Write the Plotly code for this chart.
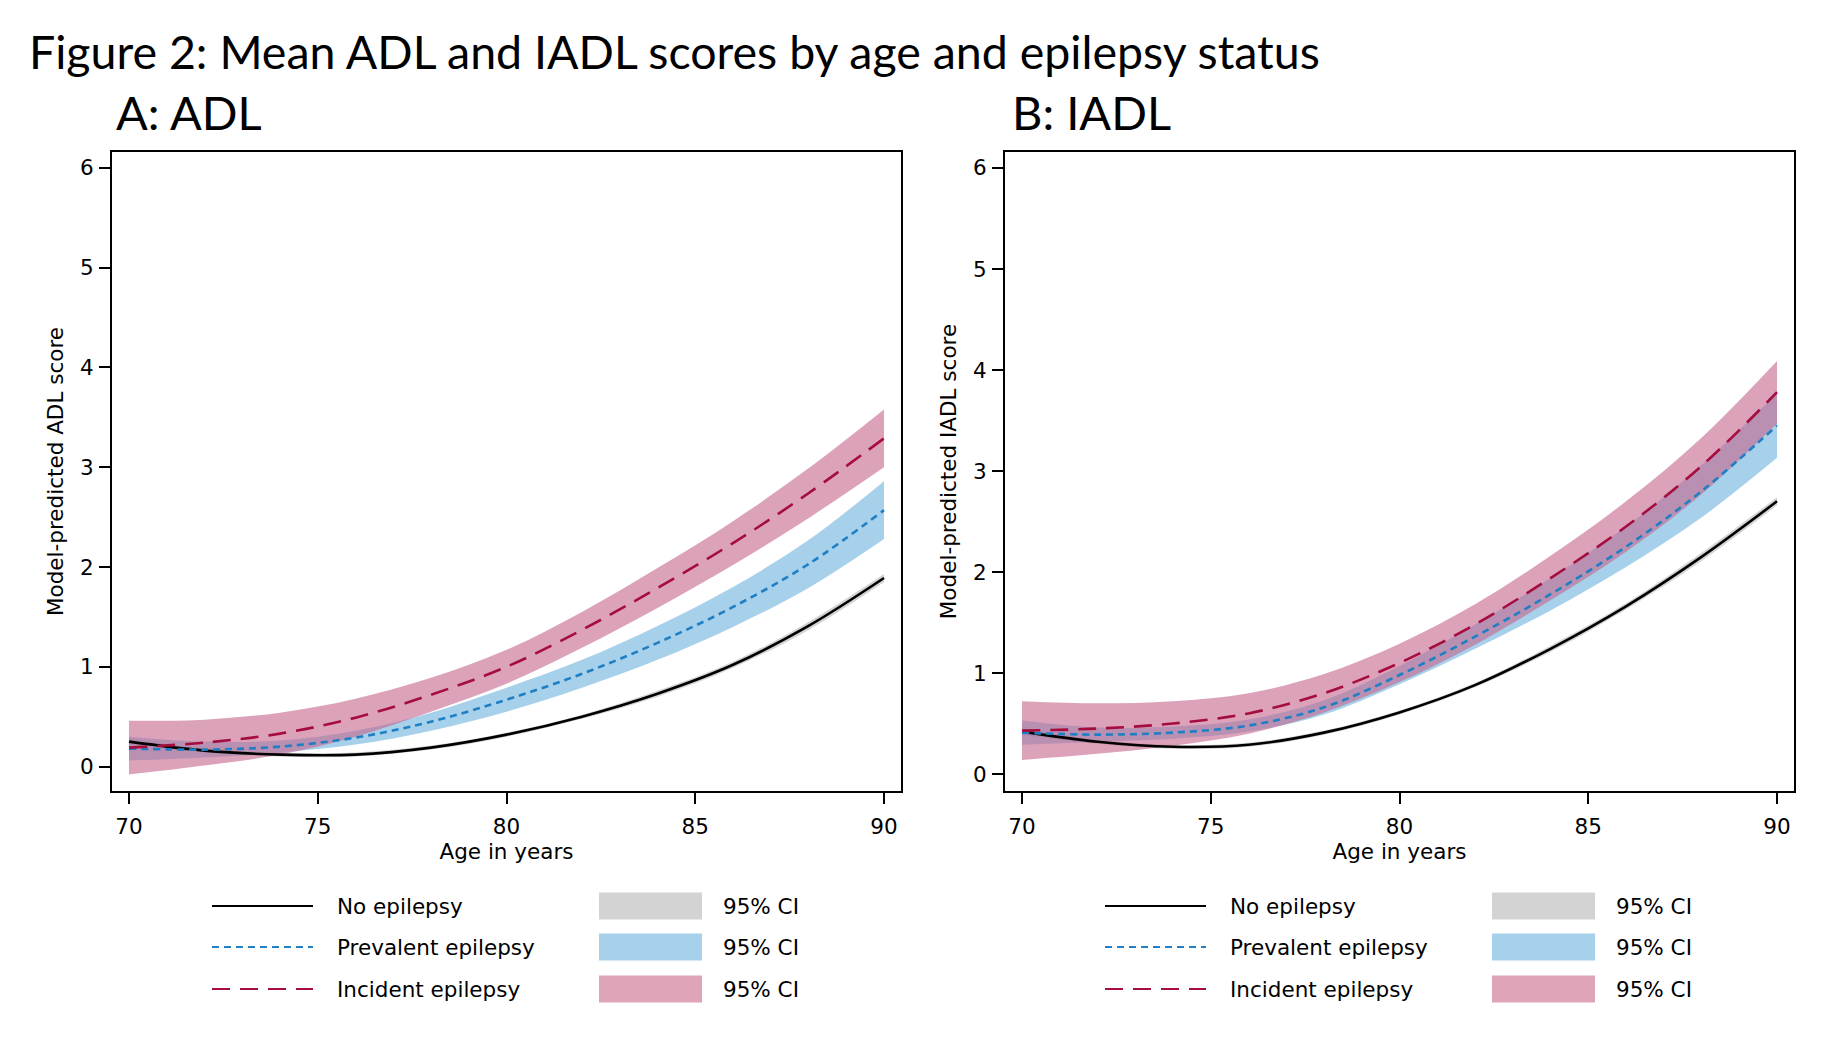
import plotly.graph_objects as go

# the page has an 8px body margin, so the figure is sized to fit the window
PAGE_OFF = 8
W, H = 1834 - PAGE_OFF, 1048 - PAGE_OFF

# ---------------- data ----------------
age = [70, 72, 74, 76, 78, 80, 82, 84, 86, 88, 90]

# Panel A: ADL
adl_no_mean = [0.25, 0.16, 0.12, 0.12, 0.19, 0.32, 0.50, 0.73, 1.02, 1.41, 1.89]
adl_no_lo   = [0.22, 0.14, 0.10, 0.10, 0.17, 0.30, 0.48, 0.70, 0.99, 1.37, 1.85]
adl_no_hi   = [0.28, 0.18, 0.14, 0.14, 0.21, 0.34, 0.52, 0.76, 1.05, 1.45, 1.93]

adl_prev_mean = [0.18, 0.17, 0.20, 0.29, 0.45, 0.67, 0.93, 1.24, 1.60, 2.03, 2.57]
adl_prev_lo   = [0.06, 0.09, 0.14, 0.22, 0.36, 0.55, 0.79, 1.07, 1.40, 1.79, 2.28]
adl_prev_hi   = [0.30, 0.25, 0.26, 0.36, 0.54, 0.79, 1.07, 1.41, 1.80, 2.27, 2.86]

adl_inc_mean = [0.19, 0.24, 0.33, 0.49, 0.72, 1.00, 1.37, 1.79, 2.24, 2.74, 3.29]
adl_inc_lo   = [-0.08, 0.01, 0.12, 0.30, 0.55, 0.83, 1.19, 1.59, 2.02, 2.49, 3.00]
adl_inc_hi   = [0.46, 0.47, 0.54, 0.68, 0.89, 1.17, 1.55, 1.99, 2.46, 2.99, 3.58]

# Panel B: IADL
iadl_no_mean = [0.42, 0.32, 0.27, 0.29, 0.41, 0.61, 0.88, 1.24, 1.66, 2.15, 2.70]
iadl_no_lo   = [0.39, 0.30, 0.25, 0.27, 0.39, 0.59, 0.86, 1.21, 1.63, 2.11, 2.66]
iadl_no_hi   = [0.45, 0.34, 0.29, 0.31, 0.43, 0.63, 0.90, 1.27, 1.69, 2.19, 2.74]

iadl_prev_mean = [0.41, 0.39, 0.41, 0.48, 0.66, 0.98, 1.36, 1.78, 2.25, 2.80, 3.45]
iadl_prev_lo   = [0.29, 0.32, 0.35, 0.42, 0.59, 0.89, 1.24, 1.62, 2.05, 2.54, 3.13]
iadl_prev_hi   = [0.53, 0.46, 0.47, 0.54, 0.73, 1.07, 1.48, 1.94, 2.45, 3.06, 3.77]

iadl_inc_mean = [0.43, 0.45, 0.50, 0.60, 0.80, 1.10, 1.48, 1.94, 2.45, 3.05, 3.78]
iadl_inc_lo   = [0.14, 0.20, 0.28, 0.40, 0.61, 0.91, 1.28, 1.72, 2.20, 2.77, 3.47]
iadl_inc_hi   = [0.72, 0.70, 0.72, 0.80, 0.99, 1.29, 1.68, 2.16, 2.70, 3.33, 4.09]

x_ticks = [70, 75, 80, 85, 90]
y_ticks = [0, 1, 2, 3, 4, 5, 6]

series_names = ["No epilepsy", "Prevalent epilepsy", "Incident epilepsy"]
ci_label = "95% CI"

# ---------------- styles ----------------
line_colors = ["#000000", "#1f7fc4", "#a50d3f"]
line_dash = ["solid", "7px,5px", "18px,10px"]
band_colors = ["rgba(182,182,182,0.6)", "rgba(108,177,220,0.6)", "rgba(196,100,140,0.6)"]
patch_colors = ["#d3d3d3", "#a7d0ea", "#dfa4b8"]

SANS = "DejaVu Sans"
TITLE_FONT = "Lato"
TXT = 21.5

fig = go.Figure()

panels = [
    dict(xa="x", ya="y",
         means=[adl_no_mean, adl_prev_mean, adl_inc_mean],
         los=[adl_no_lo, adl_prev_lo, adl_inc_lo],
         his=[adl_no_hi, adl_prev_hi, adl_inc_hi]),
    dict(xa="x2", ya="y2",
         means=[iadl_no_mean, iadl_prev_mean, iadl_inc_mean],
         los=[iadl_no_lo, iadl_prev_lo, iadl_inc_lo],
         his=[iadl_no_hi, iadl_prev_hi, iadl_inc_hi]),
]

for p in panels:
    # bands first
    for i in range(3):
        fig.add_trace(go.Scatter(x=age, y=p["los"][i], xaxis=p["xa"], yaxis=p["ya"],
                                 mode="lines", line=dict(width=0, shape="spline"),
                                 showlegend=False, hoverinfo="skip"))
        fig.add_trace(go.Scatter(x=age, y=p["his"][i], xaxis=p["xa"], yaxis=p["ya"],
                                 mode="lines", line=dict(width=0, shape="spline"),
                                 fill="tonexty", fillcolor=band_colors[i],
                                 showlegend=False, hoverinfo="skip"))
    # lines on top
    for i in range(3):
        fig.add_trace(go.Scatter(x=age, y=p["means"][i], xaxis=p["xa"], yaxis=p["ya"],
                                 mode="lines", name=series_names[i],
                                 line=dict(color=line_colors[i], width=2.6,
                                           dash=line_dash[i], shape="spline"),
                                 showlegend=False))

# ---------------- axes ----------------
# page-pixel positions -> paper fractions
def px_x(v):
    return (v - PAGE_OFF) / W

def px_y(v):
    return 1 - (v - PAGE_OFF) / H

common_x = dict(range=[69.55, 90.45], tickvals=x_ticks, ticks="outside", ticklen=11,
                tickwidth=1.5, tickcolor="black", showline=True, linecolor="black",
                linewidth=2, mirror=True, showgrid=False, zeroline=False,
                tickfont=dict(family=SANS, size=TXT, color="black"),
                ticklabelstandoff=4,
                title=dict(text="Age in years", font=dict(family=SANS, size=TXT, color="black"),
                           standoff=3))
common_y = dict(tickvals=y_ticks, ticks="outside", ticklen=11, tickwidth=1.5,
                tickcolor="black", showline=True, linecolor="black", linewidth=2,
                mirror=True, showgrid=False, zeroline=False,
                tickfont=dict(family=SANS, size=TXT, color="black"),
                ticklabelstandoff=1)

ydom = [px_y(791), px_y(152)]
fig.update_layout(
    xaxis=dict(common_x, domain=[px_x(112), px_x(901)], anchor="y"),
    yaxis=dict(common_y, domain=ydom, anchor="x", range=[-0.245, 6.16],
               title=dict(text="Model-predicted ADL score",
                          font=dict(family=SANS, size=TXT, color="black"), standoff=10)),
    xaxis2=dict(common_x, domain=[px_x(1005), px_x(1794)], anchor="y2"),
    yaxis2=dict(common_y, domain=ydom, anchor="x2", range=[-0.168, 6.158],
                title=dict(text="Model-predicted IADL score",
                           font=dict(family=SANS, size=TXT, color="black"), standoff=10)),
)

# ---------------- titles ----------------
annotations = [
    dict(text="Figure 2: Mean ADL and IADL scores by age and epilepsy status",
         x=px_x(27), y=px_y(51), xref="paper", yref="paper", xanchor="left",
         yanchor="middle", showarrow=False,
         font=dict(family=TITLE_FONT, size=46.5, color="black")),
    dict(text="A: ADL", x=px_x(114), y=px_y(112.5), xref="paper", yref="paper",
         xanchor="left", yanchor="middle", showarrow=False,
         font=dict(family=TITLE_FONT, size=47, color="black")),
    dict(text="B: IADL", x=px_x(1010), y=px_y(112.5), xref="paper", yref="paper",
         xanchor="left", yanchor="middle", showarrow=False,
         font=dict(family=TITLE_FONT, size=47, color="black")),
]

# ---------------- legends (drawn per panel) ----------------
shapes = []
row_y = [906, 947, 989]
for off in [0, 893]:
    for i in range(3):
        yy = row_y[i]
        shapes.append(dict(type="line", xref="paper", yref="paper",
                           x0=px_x(212 + off), x1=px_x(313 + off),
                           y0=px_y(yy), y1=px_y(yy),
                           line=dict(color=line_colors[i], width=2, dash=line_dash[i])))
        annotations.append(dict(text=series_names[i], x=px_x(335 + off), y=px_y(yy),
                                xref="paper", yref="paper", xanchor="left",
                                yanchor="middle", showarrow=False,
                                font=dict(family=SANS, size=TXT, color="black")))
        shapes.append(dict(type="rect", xref="paper", yref="paper",
                           x0=px_x(599 + off), x1=px_x(702 + off),
                           y0=px_y(yy - 13.5), y1=px_y(yy + 13.5),
                           fillcolor=patch_colors[i], line=dict(width=0)))
        annotations.append(dict(text=ci_label, x=px_x(721 + off), y=px_y(yy),
                                xref="paper", yref="paper", xanchor="left",
                                yanchor="middle", showarrow=False,
                                font=dict(family=SANS, size=TXT, color="black")))

fig.update_layout(
    width=W, height=H,
    margin=dict(l=0, r=0, t=0, b=0),
    paper_bgcolor="white", plot_bgcolor="white",
    showlegend=False,
    annotations=annotations, shapes=shapes,
)

fig.write_html("out.html")
